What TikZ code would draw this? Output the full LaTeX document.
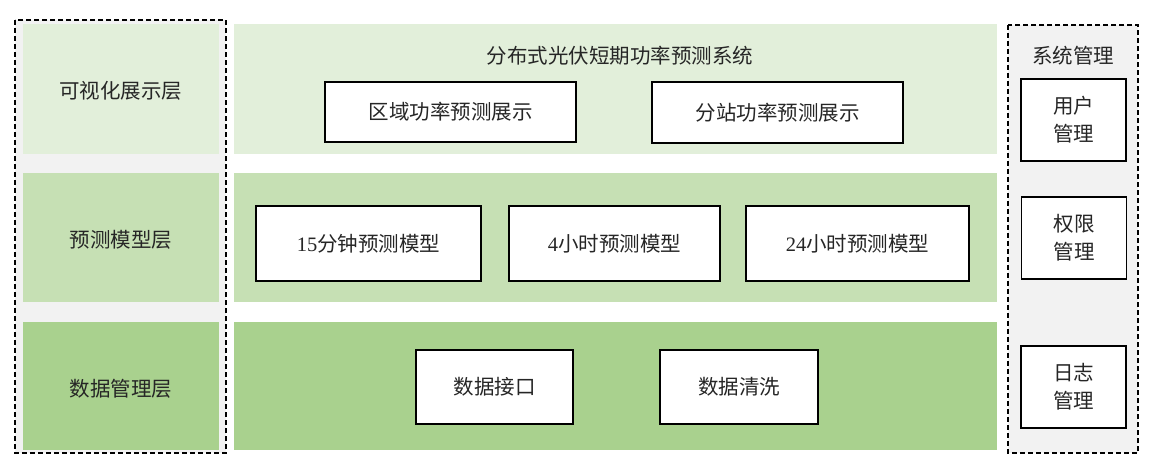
\documentclass[tikz,border=0pt]{standalone}
\usepackage{fontspec}
\setmainfont{Liberation Serif}
\newfontfamily\cjk{Noto Sans CJK SC}
\definecolor{gbg}{HTML}{F2F2F2}
\definecolor{gA}{HTML}{E2EFDA}
\definecolor{gB}{HTML}{C6E0B4}
\definecolor{gC}{HTML}{A9D18E}
\tikzset{
  mbox/.style={draw=black, line width=1.3pt, fill=white, inner sep=0pt, font=\fontsize{20.5}{28}\selectfont\cjk, text=black!85, align=center},
  dbox/.style={draw=black, line width=1.3pt, dash pattern=on 5pt off 3pt, fill=gbg},
  lbl/.style={font=\fontsize{20.5}{28}\selectfont\cjk, text=black!85, align=center}
}
\begin{document}
\begin{tikzpicture}[x=1pt,y=-1pt]
\useasboundingbox (0,0) rectangle (1163,473);
% left dashed column
\draw[dbox] (15,20) rectangle (226,453);
\fill[gA] (23,24) rectangle (219,154);
\fill[gB] (23,173) rectangle (219,302);
\fill[gC] (23,322) rectangle (219,450);
\node[lbl] (l1) at (121,91) {可视化展示层};
\node[lbl] (l2) at (121,240) {预测模型层};
\node[lbl] (l3) at (121,389) {数据管理层};
% center panels
\fill[gA] (234,24) rectangle (997,154);
\fill[gB] (234,173) rectangle (997,302);
\fill[gC] (234,322) rectangle (997,450);
\node[lbl] (title) at (620,56) {分布式光伏短期功率预测系统};
\node[mbox, minimum width=251pt, minimum height=60pt] (v1) at (450.5,112) {区域功率预测展示};
\node[mbox, minimum width=251pt, minimum height=61pt] (v2) at (777.5,112.5) {分站功率预测展示};
\node[mbox, minimum width=225pt, minimum height=75pt] (m1) at (368.5,243.5) {\textrm{15}分钟预测模型};
\node[mbox, minimum width=211pt, minimum height=75pt] (m2) at (614.5,243.5) {\textrm{4}小时预测模型};
\node[mbox, minimum width=223pt, minimum height=75pt] (m3) at (857.5,243.5) {\textrm{24}小时预测模型};
\node[mbox, minimum width=157pt, minimum height=74pt] (d1) at (494.5,387) {数据接口};
\node[mbox, minimum width=158pt, minimum height=74pt] (d2) at (739,387) {数据清洗};
% right dashed column
\draw[dbox] (1008,25) rectangle (1138,453);
\node[lbl] (sys) at (1073,56) {系统管理};
\node[mbox, minimum width=105pt, minimum height=82pt] (r1) at (1073.5,120) {用户\\管理};
\node[mbox, minimum width=105pt, minimum height=82pt] (r2) at (1074,238) {权限\\管理};
\node[mbox, minimum width=105pt, minimum height=82pt] (r3) at (1073.5,387) {日志\\管理};
\end{tikzpicture}
\end{document}
